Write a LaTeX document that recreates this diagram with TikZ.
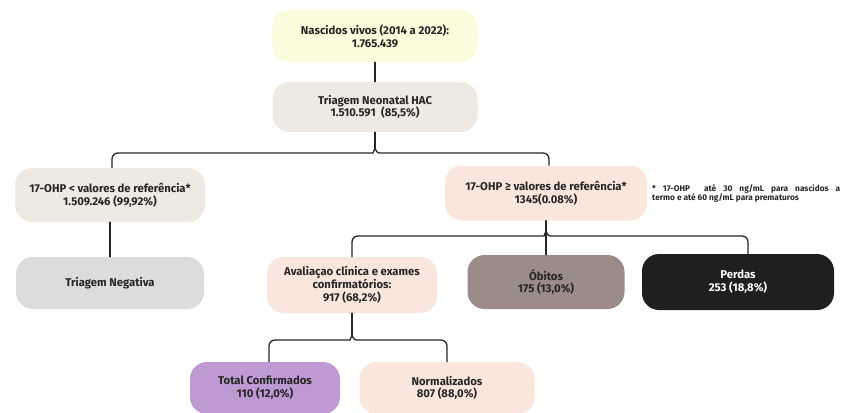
\documentclass[tikz,border=0pt]{standalone}
\usepackage{fontspec}
\setmainfont{Fira Sans}
\usetikzlibrary{calc}

\definecolor{nvfill}{HTML}{FAFCDC}
\definecolor{tnfill}{HTML}{EEEAE3}
\definecolor{hifill}{HTML}{FBE6DD}
\definecolor{negfill}{HTML}{DCDCDC}
\definecolor{obfill}{HTML}{9B8C8A}
\definecolor{pefill}{HTML}{1F1F1F}
\definecolor{tcfill}{HTML}{BF99D3}
\definecolor{lnc}{HTML}{262626}

\begin{document}
\begin{tikzpicture}[x=1pt, y=-1pt,
      box/.style={rounded corners=17pt, minimum height=52pt, inner sep=2pt,
                  font=\bfseries\fontsize{11.3}{12.8}\selectfont, align=center, text=lnc},
      conn/.style={line width=1.3pt, draw=lnc, line cap=round},
      note/.style={font=\bfseries\fontsize{8.3}{9.4}\selectfont, align=left, inner sep=0pt, text=lnc}]

    \useasboundingbox (0,0) rectangle (845,412);

    % ============================
    % NODES
    % ============================

    % top: births and screening
    \node[box, fill=nvfill, minimum width=205pt] (nv) at (375,36) {Nascidos vivos (2014 a 2022):\\1.765.439};
    \node[box, fill=tnfill, minimum width=205pt, minimum height=50pt] (tn) at (375,107) {Triagem Neonatal HAC\\1.510.591 \ (85,5\%)};

    % 17-OHP split
    \node[box, fill=tnfill, minimum width=190pt, minimum height=54pt] (lo) at (110,195) {17-OHP < valores de referência*\\1.509.246 (99,92\%)};
    \node[box, fill=hifill, minimum width=202pt, minimum height=55pt] (hi) at (546,193) {17-OHP ≥ valores de referência*\\1345(0.08\%)};
    \node[note, anchor=north west] (fn) at (652,184)
      {\makebox[188pt][s]{* 17-OHP\ \ até 30 ng/mL para nascidos a}\\termo e até 60 ng/mL para prematuros};

    % outcomes
    \node[box, fill=negfill, minimum width=188pt] (neg) at (110,283) {Triagem Negativa};
    \node[box, fill=hifill, minimum width=170pt, minimum height=56pt] (av) at (352,285) {Avaliaçao clínica e exames\\confirmatórios:\\917 (68,2\%)};
    \node[box, fill=obfill, minimum width=157pt, minimum height=54pt] (ob) at (546,282) {Óbitos\\175 (13,0\%)};
    \node[box, fill=pefill, minimum width=192pt, minimum height=56pt, text=white] (pe) at (738,282) {Perdas\\253 (18,8\%)};

    % confirmation
    \node[box, fill=tcfill, minimum width=150pt] (tc) at (265,388) {Total Confirmados\\110 (12,0\%)};
    \node[box, fill=hifill, minimum width=175pt] (no) at (447,388) {Normalizados\\807 (88,0\%)};

    % ============================
    % CONNECTORS
    % ============================
    \draw[conn] (nv.south) -- (tn.north);
    \draw[conn] (lo.south) -- (neg.north);

    % brace: screening -> two ranges
    \coordinate (k1) at (tn.south |- 0,153);
    \draw[conn] (tn.south) -- ($(k1)+(0,-5)$);
    \draw[conn, rounded corners=6pt] ([xshift=2pt]lo.north) |- ($(k1)+(-8,0)$) [sharp corners]
      .. controls ($(k1)+(-2,0)$) .. ($(k1)+(0,-5)$)
      .. controls ($(k1)+(2,0)$) .. ($(k1)+(8,0)$) [rounded corners=6pt] -| ([xshift=3pt]hi.north);

    % brace: high values -> follow-up
    \coordinate (k2) at (hi.south |- 0,236);
    \draw[conn] (hi.south) -- (ob.north);
    \draw[conn, rounded corners=6pt] (av.north) |- ($(k2)+(-8,0)$) [sharp corners]
      .. controls ($(k2)+(-2,0)$) .. ($(k2)+(0,-5)$)
      .. controls ($(k2)+(2,0)$) .. ($(k2)+(8,0)$) [rounded corners=6pt] -| ([xshift=10pt]pe.north);

    % brace: confirmatory tests -> result
    \coordinate (k3) at (av.south |- 0,340);
    \draw[conn] (av.south) -- ($(k3)+(0,-5)$);
    \draw[conn, rounded corners=6pt] ([xshift=4pt]tc.north) |- ($(k3)+(-8,0)$) [sharp corners]
      .. controls ($(k3)+(-2,0)$) .. ($(k3)+(0,-5)$)
      .. controls ($(k3)+(2,0)$) .. ($(k3)+(8,0)$) [rounded corners=6pt] -| (no.north);

\end{tikzpicture}
\end{document}
